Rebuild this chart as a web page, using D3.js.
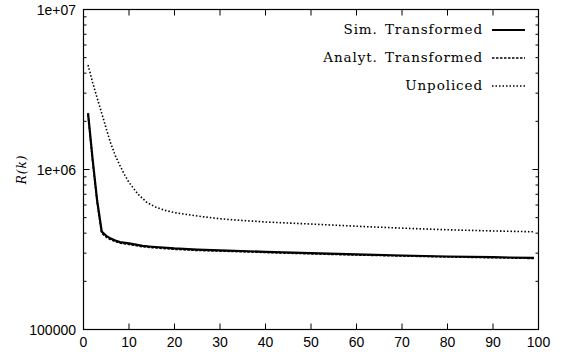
<!DOCTYPE html>
<html>
<head>
<meta charset="utf-8">
<script src="https://cdn.jsdelivr.net/npm/d3@7/dist/d3.min.js"></script>
<style>
  body { margin: 0; background: #fff; }
  svg { display: block; }
</style>
</head>
<body>
<div id="chart"></div>
<script>
// k values where each curve was sampled
const kSim = [1, 2, 3, 4, 5, 6, 7, 8, 10, 13, 15, 20, 25, 30, 40, 50, 60, 70, 80, 90, 99];
const simTransformed = [2.25e6, 1.16e6, 6.4e5, 4.1e5, 3.85e5, 3.7e5, 3.6e5, 3.52e5, 3.45e5, 3.33e5, 3.29e5,
  3.21e5, 3.16e5, 3.12e5, 3.06e5, 3.0e5, 2.95e5, 2.9e5, 2.86e5, 2.83e5, 2.8e5];
const analytTransformed = [2.2e6, 1.13e6, 6.2e5, 4.0e5, 3.78e5, 3.64e5, 3.55e5, 3.47e5, 3.4e5, 3.29e5, 3.25e5,
  3.17e5, 3.12e5, 3.09e5, 3.03e5, 2.97e5, 2.92e5, 2.88e5, 2.84e5, 2.81e5, 2.78e5];

const kUnp = [1, 2, 3, 4, 5, 6, 7, 8, 9, 10, 12, 14, 16, 18, 20, 25, 30, 35, 40, 50, 60, 70, 80, 90, 99];
const unpoliced = [4.5e6, 3.5e6, 2.8e6, 2.25e6, 1.8e6, 1.45e6, 1.22e6, 1.06e6, 9.3e5, 8.3e5, 7.0e5, 6.2e5,
  5.8e5, 5.55e5, 5.38e5, 5.12e5, 4.92e5, 4.8e5, 4.7e5, 4.56e5, 4.42e5, 4.3e5, 4.2e5, 4.13e5, 4.08e5];

const xTicks = [0, 10, 20, 30, 40, 50, 60, 70, 80, 90, 100];
const yMajor = [1e5, 1e6, 1e7];
const yLabels = ['100000', '1e+06', '1e+07'];

const width = 573, height = 352;
const margin = { left: 83.5, right: 34.5, top: 9.5, bottom: 22.5 };

const svg = d3.select('#chart').append('svg')
  .attr('width', width)
  .attr('height', height);

const x = d3.scaleLinear().domain([0, 100]).range([margin.left, width - margin.right]);
const y = d3.scaleLog().domain([1e5, 1e7]).range([height - margin.bottom, margin.top]);

// minor ticks 2..9 in each decade
const yMinor = [];
[1e5, 1e6].forEach(d => { for (let i = 2; i <= 9; i++) yMinor.push(d * i); });

const tickFont = '"Liberation Sans", Arial, sans-serif';
const serifFont = '"DejaVu Serif", "Liberation Serif", serif';
const g = svg.append('g').attr('stroke', '#000').attr('stroke-width', 1);

// x ticks, bottom and top, inward
xTicks.forEach(t => {
  g.append('line').attr('x1', x(t)).attr('x2', x(t)).attr('y1', y(1e5)).attr('y2', y(1e5) - 6);
  g.append('line').attr('x1', x(t)).attr('x2', x(t)).attr('y1', y(1e7)).attr('y2', y(1e7) + 6);
});
// y ticks, left and right
yMajor.forEach(t => {
  g.append('line').attr('x1', x(0)).attr('x2', x(0) + 6).attr('y1', y(t)).attr('y2', y(t));
  g.append('line').attr('x1', x(100)).attr('x2', x(100) - 6).attr('y1', y(t)).attr('y2', y(t));
});
yMinor.forEach(t => {
  g.append('line').attr('x1', x(0)).attr('x2', x(0) + 3).attr('y1', y(t)).attr('y2', y(t));
  g.append('line').attr('x1', x(100)).attr('x2', x(100) - 3).attr('y1', y(t)).attr('y2', y(t));
});

// frame
svg.append('rect')
  .attr('x', x(0)).attr('y', y(1e7))
  .attr('width', x(100) - x(0)).attr('height', y(1e5) - y(1e7))
  .attr('fill', 'none').attr('stroke', '#000').attr('stroke-width', 1.2);

// tick labels
svg.selectAll('text.xl').data(xTicks).enter().append('text')
  .attr('class', 'xl')
  .attr('x', d => x(d)).attr('y', 347)
  .attr('text-anchor', 'middle')
  .style('font-family', tickFont).style('font-size', '14px')
  .text(d => d);

svg.selectAll('text.yl').data(yMajor).enter().append('text')
  .attr('class', 'yl')
  .attr('x', 76).attr('y', d => y(d) + 5)
  .attr('text-anchor', 'end')
  .style('font-family', tickFont).style('font-size', '14px')
  .text((d, i) => yLabels[i]);

// y axis title
svg.append('text')
  .attr('transform', `translate(26,${y(1e6)}) rotate(-90)`)
  .attr('text-anchor', 'middle')
  .style('font-family', serifFont)
  .style('font-style', 'italic')
  .style('font-size', '12px')
  .style('letter-spacing', '1px')
  .text('R(k)');

const line = d3.line().x(d => x(d[0])).y(d => y(d[1]));

const series = [
  { name: 'Sim. Transformed', k: kSim, v: simTransformed, width: 2.2, dash: null },
  { name: 'Analyt. Transformed', k: kSim, v: analytTransformed, width: 1.6, dash: '2.5,1.5' },
  { name: 'Unpoliced', k: kUnp, v: unpoliced, width: 1.6, dash: '1.5,2' }
];

series.forEach(s => {
  svg.append('path')
    .datum(s.k.map((k, i) => [k, s.v[i]]))
    .attr('d', line)
    .attr('fill', 'none')
    .attr('stroke', '#000')
    .attr('stroke-width', s.width)
    .attr('stroke-dasharray', s.dash);
});

// legend
const legend = svg.append('g');
series.forEach((s, i) => {
  const ly = 30 + i * 28;
  legend.append('text')
    .attr('x', 483).attr('y', ly + 4)
    .attr('text-anchor', 'end')
    .style('font-family', serifFont)
    .style('font-size', '13.5px')
    .style('letter-spacing', '0.9px')
    .style('word-spacing', '2px')
    .text(s.name);
  legend.append('line')
    .attr('x1', 492).attr('x2', 525).attr('y1', ly).attr('y2', ly)
    .attr('stroke', '#000')
    .attr('stroke-width', s.width)
    .attr('stroke-dasharray', s.dash);
});
</script>
</body>
</html>
